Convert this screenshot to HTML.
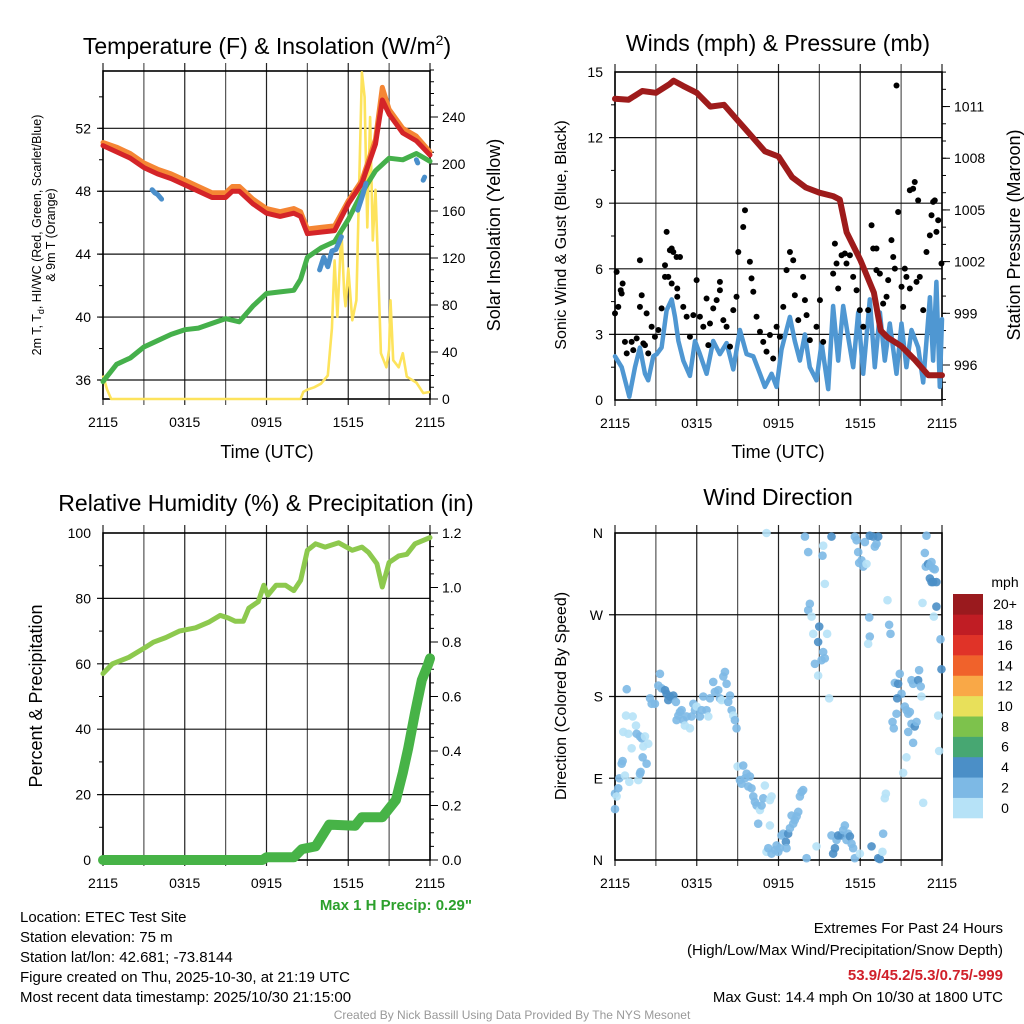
<!DOCTYPE html>
<html><head><meta charset="utf-8">
<style>
html,body{margin:0;padding:0;background:#fff;}
svg{display:block;font-family:"Liberation Sans",Arial,sans-serif;}
</style></head>
<body>
<svg id="fig" width="1024" height="1024" viewBox="0 0 1024 1024" xmlns="http://www.w3.org/2000/svg">
<rect x="0" y="0" width="1024" height="1024" fill="#fff"/>
<text x="267" y="54" font-size="23" text-anchor="middle">Temperature (F) &amp; Insolation (W/m<tspan font-size="14" dy="-9">2</tspan><tspan dy="9">)</tspan></text>
<text x="778" y="51" font-size="23" text-anchor="middle">Winds (mph) &amp; Pressure (mb)</text>
<text x="266" y="511" font-size="23" text-anchor="middle">Relative Humidity (%) &amp; Precipitation (in)</text>
<text x="778" y="505" font-size="23" text-anchor="middle">Wind Direction</text>

<text x="267" y="458" font-size="18" text-anchor="middle">Time (UTC)</text>
<text x="778" y="458" font-size="18" text-anchor="middle">Time (UTC)</text>

<g transform="translate(41,235) rotate(-90)">
<text x="0" y="0" font-size="12.5" text-anchor="middle">2m T, T<tspan font-size="9" dy="3">d</tspan><tspan dy="-3">, HI/WC (Red, Green, Scarlet/Blue)</tspan></text>
<text x="0" y="14" font-size="12.5" text-anchor="middle">&amp; 9m T (Orange)</text>
</g>
<text transform="translate(500,235) rotate(-90)" font-size="18" text-anchor="middle">Solar Insolation (Yellow)</text>
<text transform="translate(566,235) rotate(-90)" font-size="16" text-anchor="middle">Sonic Wind &amp; Gust (Blue, Black)</text>
<text transform="translate(1020,235) rotate(-90)" font-size="18" text-anchor="middle">Station Pressure (Maroon)</text>
<text transform="translate(42,696) rotate(-90)" font-size="18" text-anchor="middle">Percent &amp; Precipitation</text>
<text transform="translate(566,696) rotate(-90)" font-size="16" text-anchor="middle">Direction (Colored By Speed)</text>

<text x="472" y="910" font-size="15" font-weight="bold" fill="#2ca02c" text-anchor="end">Max 1 H Precip: 0.29"</text>
<g font-size="15">
<text x="20" y="922">Location: ETEC Test Site</text>
<text x="20" y="942">Station elevation: 75 m</text>
<text x="20" y="962">Station lat/lon: 42.681; -73.8144</text>
<text x="20" y="982">Figure created on Thu, 2025-10-30, at 21:19 UTC</text>
<text x="20" y="1002">Most recent data timestamp: 2025/10/30 21:15:00</text>
</g>
<g font-size="15" text-anchor="end">
<text x="1003" y="933">Extremes For Past 24 Hours</text>
<text x="1003" y="955">(High/Low/Max Wind/Precipitation/Snow Depth)</text>
<text x="1003" y="980" font-weight="bold" fill="#d0202a">53.9/45.2/5.3/0.75/-999</text>
<text x="1003" y="1002">Max Gust: 14.4 mph On 10/30 at 1800 UTC</text>
</g>
<text x="512" y="1019" font-size="12" fill="#999" text-anchor="middle">Created By Nick Bassill Using Data Provided By The NYS Mesonet</text>
<g id="layer"></g>
</svg>
<script>
// ---- Panel 1: temperature & insolation ----
const tempHours = [0,1,2,3,4,5,6,7,8,9,9.5,10,11,12,13,14,14.5,15,16,17,18,19,20,20.5,21,22,23,24];
const tempValues = [50.9,50.5,50.1,49.5,49.1,48.8,48.4,48.0,47.6,47.6,48.0,48.0,47.2,46.6,46.4,46.6,46.4,45.3,45.4,45.5,47.2,48.5,51.0,53.8,52.9,51.7,51.2,50.3];
const temp9mValues = [51.1,50.8,50.4,49.8,49.4,49.1,48.7,48.3,47.9,47.9,48.3,48.3,47.5,46.9,46.7,46.9,46.7,45.6,45.7,45.8,47.4,48.7,51.3,54.6,53.2,52.0,51.5,50.5];
const dewHours = [0,1,2,3,4,5,6,7,8,9,10,11,12,13,14,14.5,15,16,17,18,19,20,21,22,23,24];
const dewValues = [35.9,37.0,37.4,38.1,38.5,38.9,39.2,39.3,39.6,39.9,39.7,40.7,41.5,41.6,41.7,42.4,43.8,44.4,44.8,46.2,47.9,49.3,50.1,50.0,50.4,49.9];
const hiHours = [3.6,3.8,4.0,4.3,null,15.9,16.2,16.5,16.8,17.1,17.5,null,18.7,19.0,19.3,null,23.0,23.1,null,23.5,23.6];
const hiValues = [48.1,47.9,47.8,47.5,null,43.0,43.8,43.2,44.2,44.3,45.1,null,46.8,47.6,48.5,null,50.0,49.8,null,48.7,48.9];
const solarHours = [0,0.3,0.6,14.5,14.7,15,15.5,16,16.5,16.8,17,17.2,17.5,17.7,17.8,18,18.3,18.6,18.8,19,19.2,19.4,19.6,19.8,20,20.2,20.4,20.8,21,21.1,21.3,21.7,22,22.3,23,23.5,24];
const solarValues = [20,8,0,0,6,8,10,13,20,60,118,70,144,90,79,111,67,84,180,278,257,146,240,135,178,110,39,27,42,84,33,27,39,19,14,5,6];
const tempTicks = [36,40,44,48,52];
const solarTicks = [0,40,80,120,160,200,240];
const timeTickLabels = ["2115","0315","0915","1515","2115"];

// ---- Panel 2: wind & pressure ----
const windHours = [0,0.49,1.05,1.47,1.83,2.2,2.44,2.81,3.06,3.42,3.79,4.16,4.4,4.65,5.01,5.5,5.87,6.23,6.72,7.21,7.7,8.19,8.68,9.17,9.66,10.15,10.64,11.0,11.49,11.86,12.22,12.59,12.84,13.2,13.57,13.94,14.3,14.79,15.16,15.65,16.01,16.38,16.75,17.11,17.48,17.85,18.22,18.7,19.07,19.44,19.8,20.17,20.66,21.03,21.39,21.76,22.25,22.62,23.11,23.35,23.59,23.84,24.0];
const windValues = [2.0,1.5,0.15,1.5,2.4,1.2,0.9,2.0,2.1,2.4,4.1,4.6,3.8,2.7,1.8,1.1,2.7,2.1,1.2,2.7,2.1,2.6,1.4,3.2,2.1,2.0,1.2,0.6,1.2,0.6,2.3,3.2,3.8,2.7,1.8,3.0,1.5,0.9,2.6,0.5,4.3,1.8,4.3,2.9,1.5,4.0,1.2,4.6,1.5,4.0,1.8,3.5,1.2,3.5,1.5,3.2,2.4,0.8,4.7,1.8,5.4,0.6,3.7];
const gustHours = [0,0.12,0.24,0.49,0.56,0.42,0.73,0.86,1.22,1.34,1.59,1.83,1.96,1.83,2.08,2.2,2.32,2.44,2.69,2.93,3.18,3.42,3.67,3.79,4.03,4.16,4.28,4.52,4.77,3.67,3.91,4.16,4.57,4.57,5.01,5.26,5.5,5.75,5.99,6.23,6.48,6.72,6.85,6.97,7.21,7.46,7.7,7.7,7.95,8.19,8.44,8.68,8.92,9.05,9.41,9.54,9.9,10.02,10.15,10.39,10.64,10.88,11.12,11.37,11.61,11.86,12.1,12.35,12.59,12.84,13.08,13.2,13.45,13.81,13.94,14.06,14.3,14.79,15.04,15.28,16.01,16.14,16.26,16.38,16.63,16.87,16.99,17.24,17.48,17.73,17.97,18.22,18.58,18.83,18.95,19.19,19.19,19.44,19.68,19.93,20.05,20.29,20.42,20.54,20.66,20.78,21.03,21.15,21.27,21.39,21.64,21.64,21.88,22.0,22.13,22.25,22.37,22.62,22.86,23.11,23.23,23.35,23.47,23.59,23.72,23.96];
const gustValues = [3.96,5.86,4.26,4.87,5.33,5.02,2.66,2.13,2.66,2.28,2.82,6.39,4.79,4.26,2.59,2.51,3.96,2.13,3.35,2.89,3.2,4.19,6.16,7.69,6.85,6.93,6.77,6.54,6.54,5.63,5.63,5.33,5.1,4.72,4.26,3.81,2.89,3.88,5.48,3.81,3.35,4.64,2.51,3.5,4.19,4.57,5.4,5.02,3.65,3.35,2.44,4.11,4.72,6.77,7.91,8.68,6.32,5.56,4.95,3.81,3.12,2.66,2.21,2.97,1.9,3.35,2.89,4.26,5.94,6.77,6.39,4.79,3.65,5.63,4.57,3.88,2.74,3.35,4.57,2.66,5.78,7.15,6.24,5.1,6.62,6.7,6.24,6.62,5.63,5.02,4.11,3.35,4.11,7.99,6.93,6.93,5.94,5.78,4.41,4.72,5.48,7.31,6.54,6.01,14.38,8.6,5.18,4.26,6.01,5.63,5.1,9.59,9.66,9.97,5.4,9.13,5.63,4.11,6.77,7.53,8.45,9.06,9.13,7.69,8.22,6.24];
const pressureHours = [0,1,2,3,4,4.3,5,6,7,8,9,10,11,12,13,14,15,16,16.5,17,18,19,19.5,20,21,22,23,24];
const pressureValues = [1011.45,1011.4,1011.9,1011.8,1012.3,1012.5,1012.2,1011.8,1011.0,1011.1,1010.2,1009.3,1008.4,1008.1,1006.9,1006.3,1006.0,1005.8,1005.6,1003.7,1002.1,1000.2,998.0,997.6,997.1,996.3,995.4,995.4];
const windTicks = [0,3,6,9,12,15];
const pressureTicks = [996,999,1002,1005,1008,1011];

// ---- Panel 3: RH & precipitation ----
const rhHours = [0,0.7,1.9,3.1,3.7,4.6,5.6,6.8,7.8,8.6,9.2,9.7,10.3,10.7,11.4,11.8,12.1,12.7,13.4,14.0,14.5,15.0,15.6,16.3,17.3,18.3,19,19.5,20.1,20.5,21,21.7,22.3,22.9,24];
const rhValues = [57,60,62,65,66.6,68,70,71,72.8,74.8,74,73,73,77,79,84,81,84,84,82.4,85.5,94.7,96.7,95.7,97,94.7,95.7,94,90.6,83.5,91,93,93.5,96.7,98.6];
const precipHours = [0,11.7,12,14,14.6,15.6,16.6,18.5,19,20.5,21.5,22,22.4,22.9,23.4,23.8,24];
const precipValues = [0,0,0.01,0.01,0.04,0.05,0.13,0.126,0.157,0.157,0.22,0.32,0.41,0.54,0.66,0.71,0.74];
const rhTicks = [0,20,40,60,80,100];
const precipTicks = ["0.0","0.2","0.4","0.6","0.8","1.0","1.2"];

// ---- Panel 4: wind direction ----
const dirHours = [0,0,0.24,0.12,0.32,0.49,0.56,0.73,1.05,0.61,0.81,0.98,1.22,1.3,1.54,1.59,1.83,1.96,2.08,2.2,2.44,2.03,2.32,1.71,1.83,1.88,0.86,2.57,2.69,2.93,3.18,3.3,3.42,3.67,3.79,3.91,4.03,4.28,4.47,4.65,4.77,4.89,4.52,5.01,5.13,5.26,5.5,5.62,5.75,5.87,5.99,6.23,6.36,6.48,6.72,6.85,6.97,7.21,7.33,7.58,7.7,7.82,7.95,8.07,8.19,8.31,8.44,8.56,8.68,8.8,8.92,9.0,9.17,9.29,9.41,9.54,9.66,9.78,9.9,10.02,10.15,10.27,10.39,10.64,10.76,10.88,11.0,11.37,11.49,10.51,11.37,11.12,11.25,11.49,11.74,11.86,11.98,12.1,12.22,12.35,12.54,12.59,12.71,12.84,12.96,13.08,13.2,13.33,13.45,13.57,13.69,13.81,14.06,14.79,11.12,13.94,14.18,14.3,14.18,14.43,14.55,14.67,14.91,14.99,14.91,15.16,15.28,15.4,15.57,15.72,15.28,15.23,15.4,15.89,15.89,16.01,16.14,16.26,16.38,16.63,16.75,16.87,16.99,17.11,17.24,17.36,17.48,17.6,17.97,17.6,17.73,17.85,17.92,18.09,18.22,18.34,18.46,18.7,18.95,19.07,19.19,19.32,18.66,18.7,18.58,18.83,19.32,19.44,19.68,19.63,19.8,19.88,20.0,20.12,20.22,20.37,20.46,20.66,20.54,20.78,20.9,21.03,20.71,21.27,21.39,21.52,21.64,21.52,21.76,22.0,22.13,21.88,21.39,21.15,21.76,21.88,22.25,22.32,22.44,22.49,22.62,22.57,22.74,22.86,22.81,22.98,23.11,23.23,23.35,23.47,23.11,23.23,23.35,23.59,23.4,23.59,23.72,23.79,23.89,23.96];
const dirDegrees = [56,73,79,70,90,106,109,93,86,141,159,139,123,158,148,139,136,134,125,136,128,113,106,88,95,97,188,178,172,172,192,205,189,187,183,176,180,181,174,159,163,165,154,154,148,158,145,158,172,165,169,158,165,180,165,158,178,196,185,187,178,176,202,207,194,174,181,165,159,154,145,103,88,84,104,90,95,81,92,79,70,64,60,55,60,68,82,66,70,40,38,9,13,7,11,16,9,13,27,29,20,13,29,35,49,40,44,48,53,70,75,77,2,15,360,356,339,282,275,268,249,216,203,257,240,220,229,222,249,178,346,335,304,356,27,7,13,22,27,27,33,38,22,29,26,18,13,2,7,356,352,339,327,330,323,350,326,357,356,345,348,356,267,246,238,15,2,1,29,9,68,73,286,259,249,152,145,161,195,194,205,183,178,169,165,161,163,141,150,147,152,129,113,96,198,194,198,209,191,180,63,283,338,357,323,326,324,328,321,320,310,306,306,306,268,279,159,120,243,210];
const dirSpeeds = [3,3,3,1,3,3,3,1,1,1,1,1,1,1,1,3,3,3,1,1,1,3,3,1,3,3,3,3,3,3,3,3,3,5,5,5,5,5,3,3,3,3,3,3,1,3,1,3,3,3,1,3,3,3,3,1,3,3,3,3,3,1,3,3,3,3,3,3,1,3,3,1,3,3,3,3,3,3,3,3,3,3,3,1,3,3,1,1,1,3,1,1,3,3,3,3,3,3,3,3,5,3,5,3,3,3,3,3,3,3,3,3,3,1,1,3,3,3,3,1,1,3,1,5,5,3,3,3,1,1,1,3,1,5,3,5,5,3,5,5,3,3,3,3,5,3,3,3,1,3,3,3,3,3,3,3,1,5,5,3,3,5,3,3,1,5,5,5,3,1,1,1,1,3,3,3,3,3,3,5,3,3,5,3,3,3,3,3,3,5,3,3,1,1,3,3,5,3,3,1,1,1,3,3,3,5,3,3,3,3,5,5,5,5,1,5,1,1,3,5];
const dirTickLabels = ["N","E","S","W","N"];
const speedBinLabels = ["0","2","4","6","8","10","12","14","16","18","20+"];
const speedBinColors = ["#b6e2f7","#7db9e5","#4b8fc7","#47a772","#7dc24c","#e8e05a","#f9a847","#f0622b","#e03328","#c01d24","#9a1a1e"];

const NS = "http://www.w3.org/2000/svg";
const layer = document.getElementById("layer");
function mk(tag, attrs, parent) {
  const e = document.createElementNS(NS, tag);
  for (const k in attrs) e.setAttribute(k, attrs[k]);
  (parent || layer).appendChild(e);
  return e;
}
function linPath(xs, ys, xf, yf) {
  let d = "", pen = false;
  for (let i = 0; i < xs.length; i++) {
    if (xs[i] === null || ys[i] === null) { pen = false; continue; }
    d += (pen ? "L" : "M") + xf(xs[i]).toFixed(1) + "," + yf(ys[i]).toFixed(1);
    pen = true;
  }
  return d;
}

const P1 = {x0:103, x1:430, y0:71, y1:399};
const P2 = {x0:615, x1:942, y0:72, y1:400};
const P3 = {x0:103, x1:430, y0:533, y1:860};
const P4 = {x0:615, x1:942, y0:533, y1:860};
function xScale(P){ return h => P.x0 + h/24*(P.x1-P.x0); }
const x1s = xScale(P1), x2s = xScale(P2), x3s = xScale(P3), x4s = xScale(P4);
const tY = T => 380 - (T-36)*(251.7/16);
const sY = S => 399 - S*(47/40);
const wY = w => P2.y1 - w*((P2.y1-P2.y0)/15);
const pY = p => 365 - (p-996)*17.23;
const rY = r => P3.y1 - r*((P3.y1-P3.y0)/100);
const pcY = p => P3.y1 - p*((P3.y1-P3.y0)/1.2);
const dY = d => P4.y1 - d*((P4.y1-P4.y0)/360);

function frame(P, name, hLines, xf) {
  const g = mk("g", {});
  
  
  for (let h = 0; h <= 24; h += 3) {
    const x = xf(h);
    const gl = mk("line", {x1:x, y1:P.y0-8, x2:x, y2:P.y1+6, stroke: (h%6===0)?"#222":"#555", "stroke-width":1.2}, g);
    
    
  }
  hLines.forEach(y => {
    const gl = mk("line", {x1:P.x0-6, y1:y, x2:P.x1, y2:y, stroke:"#111", "stroke-width":1.2}, g);
    
    
  });
  const b = mk("rect", {x:P.x0, y:P.y0, width:P.x1-P.x0, height:P.y1-P.y0, fill:"none", stroke:"#000", "stroke-width":1.6}, g);
  
  
  timeTickLabels.forEach((lab, i) => {
    const t = mk("text", {x:xf(i*6), y:P.y1+28, "font-size":14, "text-anchor":"middle"}, g);
    t.textContent = lab;
    
    
  });
  return g;
}
function leftLabels(P, vals, yf, labs) {
  vals.forEach((v, i) => {
    const t = mk("text", {x:P.x0-12, y:yf(v)+5, "font-size":14, "text-anchor":"end"});
    t.textContent = labs ? labs[i] : v;
    
    
  });
}
function rightAxis(P, majors, minors, yf, labs) {
  minors.forEach(v => { const y = yf(v); if (y >= P.y0-1 && y <= P.y1+1) {
    const l = mk("line", {x1:P.x1, y1:y, x2:P.x1+4, y2:y, stroke:"#000", "stroke-width":1});
    
     } });
  majors.forEach((v, i) => {
    const y = yf(v);
    const l = mk("line", {x1:P.x1, y1:y, x2:P.x1+8, y2:y, stroke:"#000", "stroke-width":1});
    
    
    const t = mk("text", {x:P.x1+12, y:y+5, "font-size":14});
    t.textContent = labs ? labs[i] : v;
    
    
  });
}
function leftMinor(P, vals, yf) {
  vals.forEach(v => { const y = yf(v); if (y >= P.y0 && y <= P.y1) {
    const l = mk("line", {x1:P.x0-4, y1:y, x2:P.x0, y2:y, stroke:"#000", "stroke-width":1});
    
     } });
}
function range(a, b, s){ const r=[]; for (let v=a; v<=b+1e-9; v+=s) r.push(+v.toFixed(4)); return r; }

// Panel 1
frame(P1, "temp", tempTicks.map(tY), x1s);
leftLabels(P1, tempTicks, tY);
leftMinor(P1, range(34,56,2), tY);
rightAxis(P1, solarTicks, range(0,280,10), sY);
let e;
e = mk("path", {d:linPath(solarHours, solarValues, x1s, sY), fill:"none", stroke:"#fde35c", "stroke-width":2.6, "stroke-linejoin":"round"});


e = mk("path", {d:linPath(dewHours, dewValues, x1s, tY), fill:"none", stroke:"#45b04b", "stroke-width":5, "stroke-linejoin":"round", "stroke-linecap":"round"});


e = mk("path", {d:linPath(tempHours, temp9mValues, x1s, tY), fill:"none", stroke:"#f58634", "stroke-width":5, "stroke-linejoin":"round", "stroke-linecap":"round"});


e = mk("path", {d:linPath(tempHours, tempValues, x1s, tY), fill:"none", stroke:"#d42428", "stroke-width":5, "stroke-linejoin":"round", "stroke-linecap":"round"});


e = mk("path", {d:linPath(hiHours, hiValues, x1s, tY), fill:"none", stroke:"#4a8fcb", "stroke-width":5, "stroke-linejoin":"round", "stroke-linecap":"round"});



// Panel 2
frame(P2, "wind", [3,6,9,12].map(wY), x2s);
leftLabels(P2, windTicks, wY);
leftMinor(P2, range(1.5,13.5,3), wY);
rightAxis(P2, pressureTicks, range(994,1014,1), pY);
e = mk("path", {d:linPath(windHours, windValues, x2s, wY), fill:"none", stroke:"#4f97d2", "stroke-width":4.5, "stroke-linejoin":"round", "stroke-linecap":"round"});


gustHours.forEach((h, i) => {
  const c = mk("circle", {cx:x2s(h), cy:wY(gustValues[i]), r:3, fill:"#000"});
  
  
});
e = mk("path", {d:linPath(pressureHours, pressureValues, x2s, pY), fill:"none", stroke:"#9e1b1b", "stroke-width":6, "stroke-linejoin":"round", "stroke-linecap":"round"});



// Panel 3
frame(P3, "rh", [20,40,60,80].map(rY), x3s);
leftLabels(P3, rhTicks, rY);
leftMinor(P3, range(10,90,20), rY);
rightAxis(P3, precipTicks.map(Number), range(0,1.2,0.05), pcY, precipTicks);
e = mk("path", {d:linPath(rhHours, rhValues, x3s, rY), fill:"none", stroke:"#8dc94e", "stroke-width":5, "stroke-linejoin":"round", "stroke-linecap":"round"});


e = mk("path", {d:linPath(precipHours, precipValues, x3s, pcY), fill:"none", stroke:"#47b347", "stroke-width":10, "stroke-linejoin":"round", "stroke-linecap":"round"});



// Panel 4
frame(P4, "direction", [90,180,270].map(dY), x4s);
leftLabels(P4, [0,90,180,270,360], dY, dirTickLabels);
function speedColor(s){ let i = Math.min(10, Math.floor(s/2)); return speedBinColors[i]; }
dirHours.forEach((h, i) => {
  const c = mk("circle", {cx:x4s(h), cy:dY(dirDegrees[i]), r:4.3, fill:speedColor(dirSpeeds[i]), "fill-opacity":0.9});
  
  
});

// Colorbar
const cb = mk("g", {});


const cbTop = 594, cbH = 224/11;
speedBinColors.forEach((col, i) => {
  const y = cbTop + (10-i)*cbH;
  const r = mk("rect", {x:953, y:y, width:30, height:cbH+0.3, fill:col}, cb);
  
  
  const t = mk("text", {x:1005, y:y+cbH/2+5, "font-size":14, "text-anchor":"middle"}, cb);
  t.textContent = speedBinLabels[i];
  
  
});
const mph = mk("text", {x:1005, y:587, "font-size":14, "text-anchor":"middle"}, cb);
mph.textContent = "mph";


</script>
</body></html>
